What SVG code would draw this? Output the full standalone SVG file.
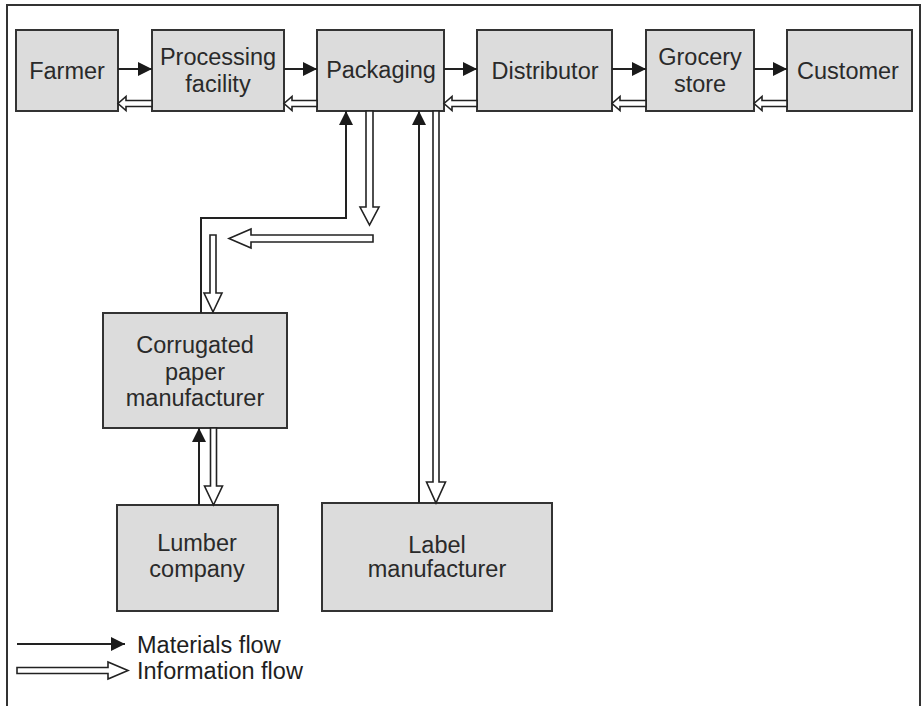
<svg xmlns="http://www.w3.org/2000/svg" width="922" height="706" viewBox="0 0 922 706">
  <style>
    .box { fill: #dcdcdc; stroke: #333; stroke-width: 2; }
    .lbl { font-family: "Liberation Sans", Arial, sans-serif; font-size: 23.5px; fill: #2a2a2a; text-anchor: middle; }
    .leg { font-family: "Liberation Sans", Arial, sans-serif; font-size: 23.5px; fill: #1e1e1e; }
    .mat { fill: none; stroke: #222; stroke-width: 2; marker-end: url(#solid); }
    .info { fill: #fff; stroke: #222; stroke-width: 1.6; stroke-linejoin: miter; }
  </style>
  <defs>
    <marker id="solid" viewBox="0 0 14 14" refX="14" refY="7" markerWidth="14" markerHeight="14" markerUnits="userSpaceOnUse" orient="auto">
      <path d="M0,0 L14,7 L0,14 Z" fill="#1a1a1a"/>
    </marker>
  </defs>

  <rect width="922" height="706" fill="#fff"/>
  <!-- outer frame -->
  <path d="M7,706 V5 H920 V706" fill="none" stroke="#333" stroke-width="2"/>

  <!-- nodes -->
  <g id="farmer">
    <rect class="box" x="16" y="30" width="102" height="81"/>
    <text class="lbl" x="67" y="79">Farmer</text>
  </g>
  <g id="processing">
    <rect class="box" x="152" y="30" width="132" height="81"/>
    <text class="lbl" x="218" y="65">Processing</text>
    <text class="lbl" x="218" y="92">facility</text>
  </g>
  <g id="packaging">
    <rect class="box" x="317" y="30" width="127" height="81"/>
    <text class="lbl" x="381" y="78">Packaging</text>
  </g>
  <g id="distributor">
    <rect class="box" x="477" y="30" width="135" height="81"/>
    <text class="lbl" x="545" y="79">Distributor</text>
  </g>
  <g id="grocery">
    <rect class="box" x="646" y="30" width="108" height="81"/>
    <text class="lbl" x="700" y="65">Grocery</text>
    <text class="lbl" x="700" y="92">store</text>
  </g>
  <g id="customer">
    <rect class="box" x="787" y="30" width="125" height="81"/>
    <text class="lbl" x="848" y="79">Customer</text>
  </g>
  <g id="corrugated">
    <rect class="box" x="103" y="313" width="184" height="115"/>
    <text class="lbl" x="195" y="353">Corrugated</text>
    <text class="lbl" x="195" y="380">paper</text>
    <text class="lbl" x="195" y="406">manufacturer</text>
  </g>
  <g id="lumber">
    <rect class="box" x="117" y="505" width="161" height="106"/>
    <text class="lbl" x="197" y="551">Lumber</text>
    <text class="lbl" x="197" y="577">company</text>
  </g>
  <g id="label">
    <rect class="box" x="322" y="503" width="230" height="108"/>
    <text class="lbl" x="437" y="553">Label</text>
    <text class="lbl" x="437" y="577">manufacturer</text>
  </g>

  <!-- connectors -->
  <g id="connectors">
    <!-- materials flow -->
    <path class="mat" d="M118,69 H152"/>
    <path class="mat" d="M284,69 H317"/>
    <path class="mat" d="M444,69 H477"/>
    <path class="mat" d="M612,69 H646"/>
    <path class="mat" d="M754,69 H787"/>
    <path class="mat" d="M201,313 V218 H346 V111"/>
    <path class="mat" d="M419,503 V111"/>
    <path class="mat" d="M199,505 V428"/>

    <!-- information flow -->
    <polygon class="info" points="152,100.5 126,100.5 126,96.5 118,103.5 126,110.5 126,106.5 152,106.5"/>
    <polygon class="info" points="317,100.5 292,100.5 292,96.5 284,103.5 292,110.5 292,106.5 317,106.5"/>
    <polygon class="info" points="477,100.5 452,100.5 452,96.5 444,103.5 452,110.5 452,106.5 477,106.5"/>
    <polygon class="info" points="646,100.5 620,100.5 620,96.5 612,103.5 620,110.5 620,106.5 646,106.5"/>
    <polygon class="info" points="787,100.5 762,100.5 762,96.5 754,103.5 762,110.5 762,106.5 787,106.5"/>
    <polygon class="info" points="366,111 366,207 360,207 369.5,225 379,207 373,207 373,111"/>
    <polygon class="info" points="373,235 251,235 251,229 229,238.5 251,248 251,242 373,242"/>
    <polygon class="info" points="210,235 210,293 204,293 213,312 222,293 216,293 216,235"/>
    <polygon class="info" points="210.5,428 210.5,486 204.5,486 213.5,505 222.5,486 216.5,486 216.5,428"/>
    <polygon class="info" points="433,111 433,482 426.5,482 436,503 445.5,482 439,482 439,111"/>
  </g>

  <!-- legend -->
  <g id="legend">
    <path class="mat" d="M17,644 H125"/>
    <text class="leg" x="137" y="653">Materials flow</text>
    <polygon class="info" points="17,667.5 108,667.5 108,662 128,670.5 108,679 108,673.5 17,673.5"/>
    <text class="leg" x="137" y="679">Information flow</text>
  </g>
</svg>
